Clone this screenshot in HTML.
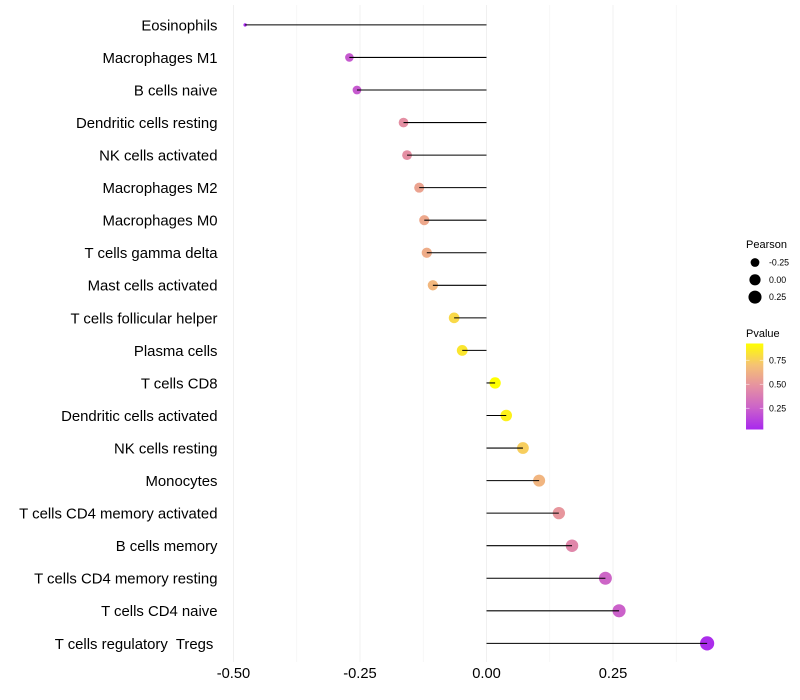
<!DOCTYPE html>
<html>
<head>
<meta charset="utf-8">
<title>Immune cell correlation lollipop chart</title>
<style>
  html, body { margin: 0; padding: 0; background: #fff; }
  svg { display: block; font-family: "Liberation Sans", Arial, sans-serif; }
  text { white-space: pre; }
</style>
</head>
<body>
<svg id="chart" width="800" height="700" viewBox="0 0 800 700" xmlns="http://www.w3.org/2000/svg">
  <defs>
    <linearGradient id="pvalue-gradient" x1="0" y1="1" x2="0" y2="0">
      <stop offset="0" stop-color="#a828ee"/>
      <stop offset="0.25" stop-color="#cb62ca"/>
      <stop offset="0.5" stop-color="#e590a2"/>
      <stop offset="0.75" stop-color="#f5c274"/>
      <stop offset="1" stop-color="#ffff00"/>
    </linearGradient>
  </defs>
  <rect width="800" height="700" fill="#ffffff"/>
  <g id="grid"></g>
  <g id="points"></g>
  <g id="stems-top"></g>
  <g id="y-axis"></g>
  <g id="x-axis"></g>
  <g id="legend-size">
    <text x="746" y="248" font-size="11" fill="#000">Pearson</text>
  </g>
  <g id="legend-color">
    <text x="746" y="337" font-size="11" fill="#000">Pvalue</text>
    <rect x="746" y="343.5" width="17.3" height="86" fill="url(#pvalue-gradient)"/>
  </g>
</svg>
<script>
const categories = ["Eosinophils","Macrophages M1","B cells naive","Dendritic cells resting","NK cells activated","Macrophages M2","Macrophages M0","T cells gamma delta","Mast cells activated","T cells follicular helper","Plasma cells","T cells CD8","Dendritic cells activated","NK cells resting","Monocytes","T cells CD4 memory activated","B cells memory","T cells CD4 memory resting","T cells CD4 naive","T cells regulatory  Tregs "];
const pearson = [-0.477,-0.271,-0.256,-0.164,-0.157,-0.133,-0.123,-0.118,-0.106,-0.064,-0.048,0.017,0.039,0.072,0.104,0.143,0.169,0.235,0.262,0.436];
const pvalue = [0.03,0.22,0.22,0.47,0.47,0.56,0.58,0.6,0.65,0.78,0.83,0.92,0.87,0.74,0.64,0.5,0.43,0.27,0.25,0.05];
const xTicks = [-0.5,-0.25,0,0.25];
const xTickLabels = ["-0.50","-0.25","0.00","0.25"];
const xMinorTicks = [-0.375,-0.125,0.125,0.375];
const sizeLegendValues = [-0.25,0,0.25];
const sizeLegendLabels = ["-0.25","0.00","0.25"];
const colorLegendValues = [0.25,0.5,0.75];
const colorLegendLabels = ["0.25","0.50","0.75"];

const NS = "http://www.w3.org/2000/svg";
function x(v) { return 486.5 + v * 506; }
function y(i) { return 24.9 + i * 32.55; }
function legendY(p) { return 432.4 - p * 96; }
function radius(v) {
  const lo = Math.min.apply(null, pearson);
  const hi = Math.max.apply(null, pearson);
  const t = Math.max(0, (v - lo) / ((hi - lo) || 1));
  return 1.7 + 5.4 * Math.sqrt(t);
}
function color(p) {
  const ramp = [[168,40,238],[203,98,202],[229,144,162],[245,194,116],[255,255,0]];
  const t = Math.min(1, Math.max(0, (p - 0.03) / 0.89)) * 4;
  const k = Math.min(3, Math.floor(t));
  const f = t - k;
  const c = ramp[k].map(function (a, j) { return Math.round(a + (ramp[k + 1][j] - a) * f); });
  return "rgb(" + c.join(",") + ")";
}
function make(tag, attrs, parent, content) {
  const el = document.createElementNS(NS, tag);
  Object.keys(attrs).forEach(function (key) { el.setAttribute(key, attrs[key]); });
  if (content !== undefined) el.textContent = content;
  parent.appendChild(el);
  return el;
}

const grid = document.getElementById("grid");
const points = document.getElementById("points");
const stemsTop = document.getElementById("stems-top");
const yAxis = document.getElementById("y-axis");
const xAxis = document.getElementById("x-axis");
const legendSize = document.getElementById("legend-size");
const legendColor = document.getElementById("legend-color");

xMinorTicks.forEach(function (v) {
  const el = make("line", {x1: x(v), x2: x(v), y1: 5, y2: 662, stroke: "#f4f4f4", "stroke-width": 0.8}, grid);
  
  
});
xTicks.forEach(function (v, i) {
  const el = make("line", {x1: x(v), x2: x(v), y1: 5, y2: 662, stroke: "#f0f0f0", "stroke-width": 1}, grid);
  
  
  const label = make("text", {x: x(v), y: 678, "text-anchor": "middle", "font-size": 14.7, fill: "#000"}, xAxis, xTickLabels[i]);
  
  
});

categories.forEach(function (name, i) {
  const label = make("text", {x: 217.5, y: y(i) + 5.4, "text-anchor": "end", "font-size": 14.9, fill: "#000"}, yAxis, name);
  
  

  const stem = make("line", {x1: x(0), x2: x(pearson[i]), y1: y(i), y2: y(i), stroke: "#000", "stroke-width": 1.07}, stemsTop);
  
  

  const point = make("circle", {cx: x(pearson[i]), cy: y(i), r: radius(pearson[i]), fill: color(pvalue[i])}, points);
  
  
});

sizeLegendValues.forEach(function (v, i) {
  const cy = 262.5 + i * 17.3;
  const dot = make("circle", {cx: 755, cy: cy, r: radius(v), fill: "#000"}, legendSize);
  
  
  const label = make("text", {x: 769, y: cy + 3, "font-size": 8.8, fill: "#000"}, legendSize, sizeLegendLabels[i]);
  
  
});

colorLegendValues.forEach(function (p, i) {
  const ly = legendY(p);
  const left = make("line", {x1: 746, x2: 749.5, y1: ly, y2: ly, stroke: "#fff", "stroke-width": 1, "stroke-opacity": 0.5}, legendColor);
  
  
  const right = make("line", {x1: 759.8, x2: 763.3, y1: ly, y2: ly, stroke: "#fff", "stroke-width": 1, "stroke-opacity": 0.5}, legendColor);
  
  
  const label = make("text", {x: 769, y: ly + 3, "font-size": 8.8, fill: "#000"}, legendColor, colorLegendLabels[i]);
  
  
});
</script>
</body>
</html>
